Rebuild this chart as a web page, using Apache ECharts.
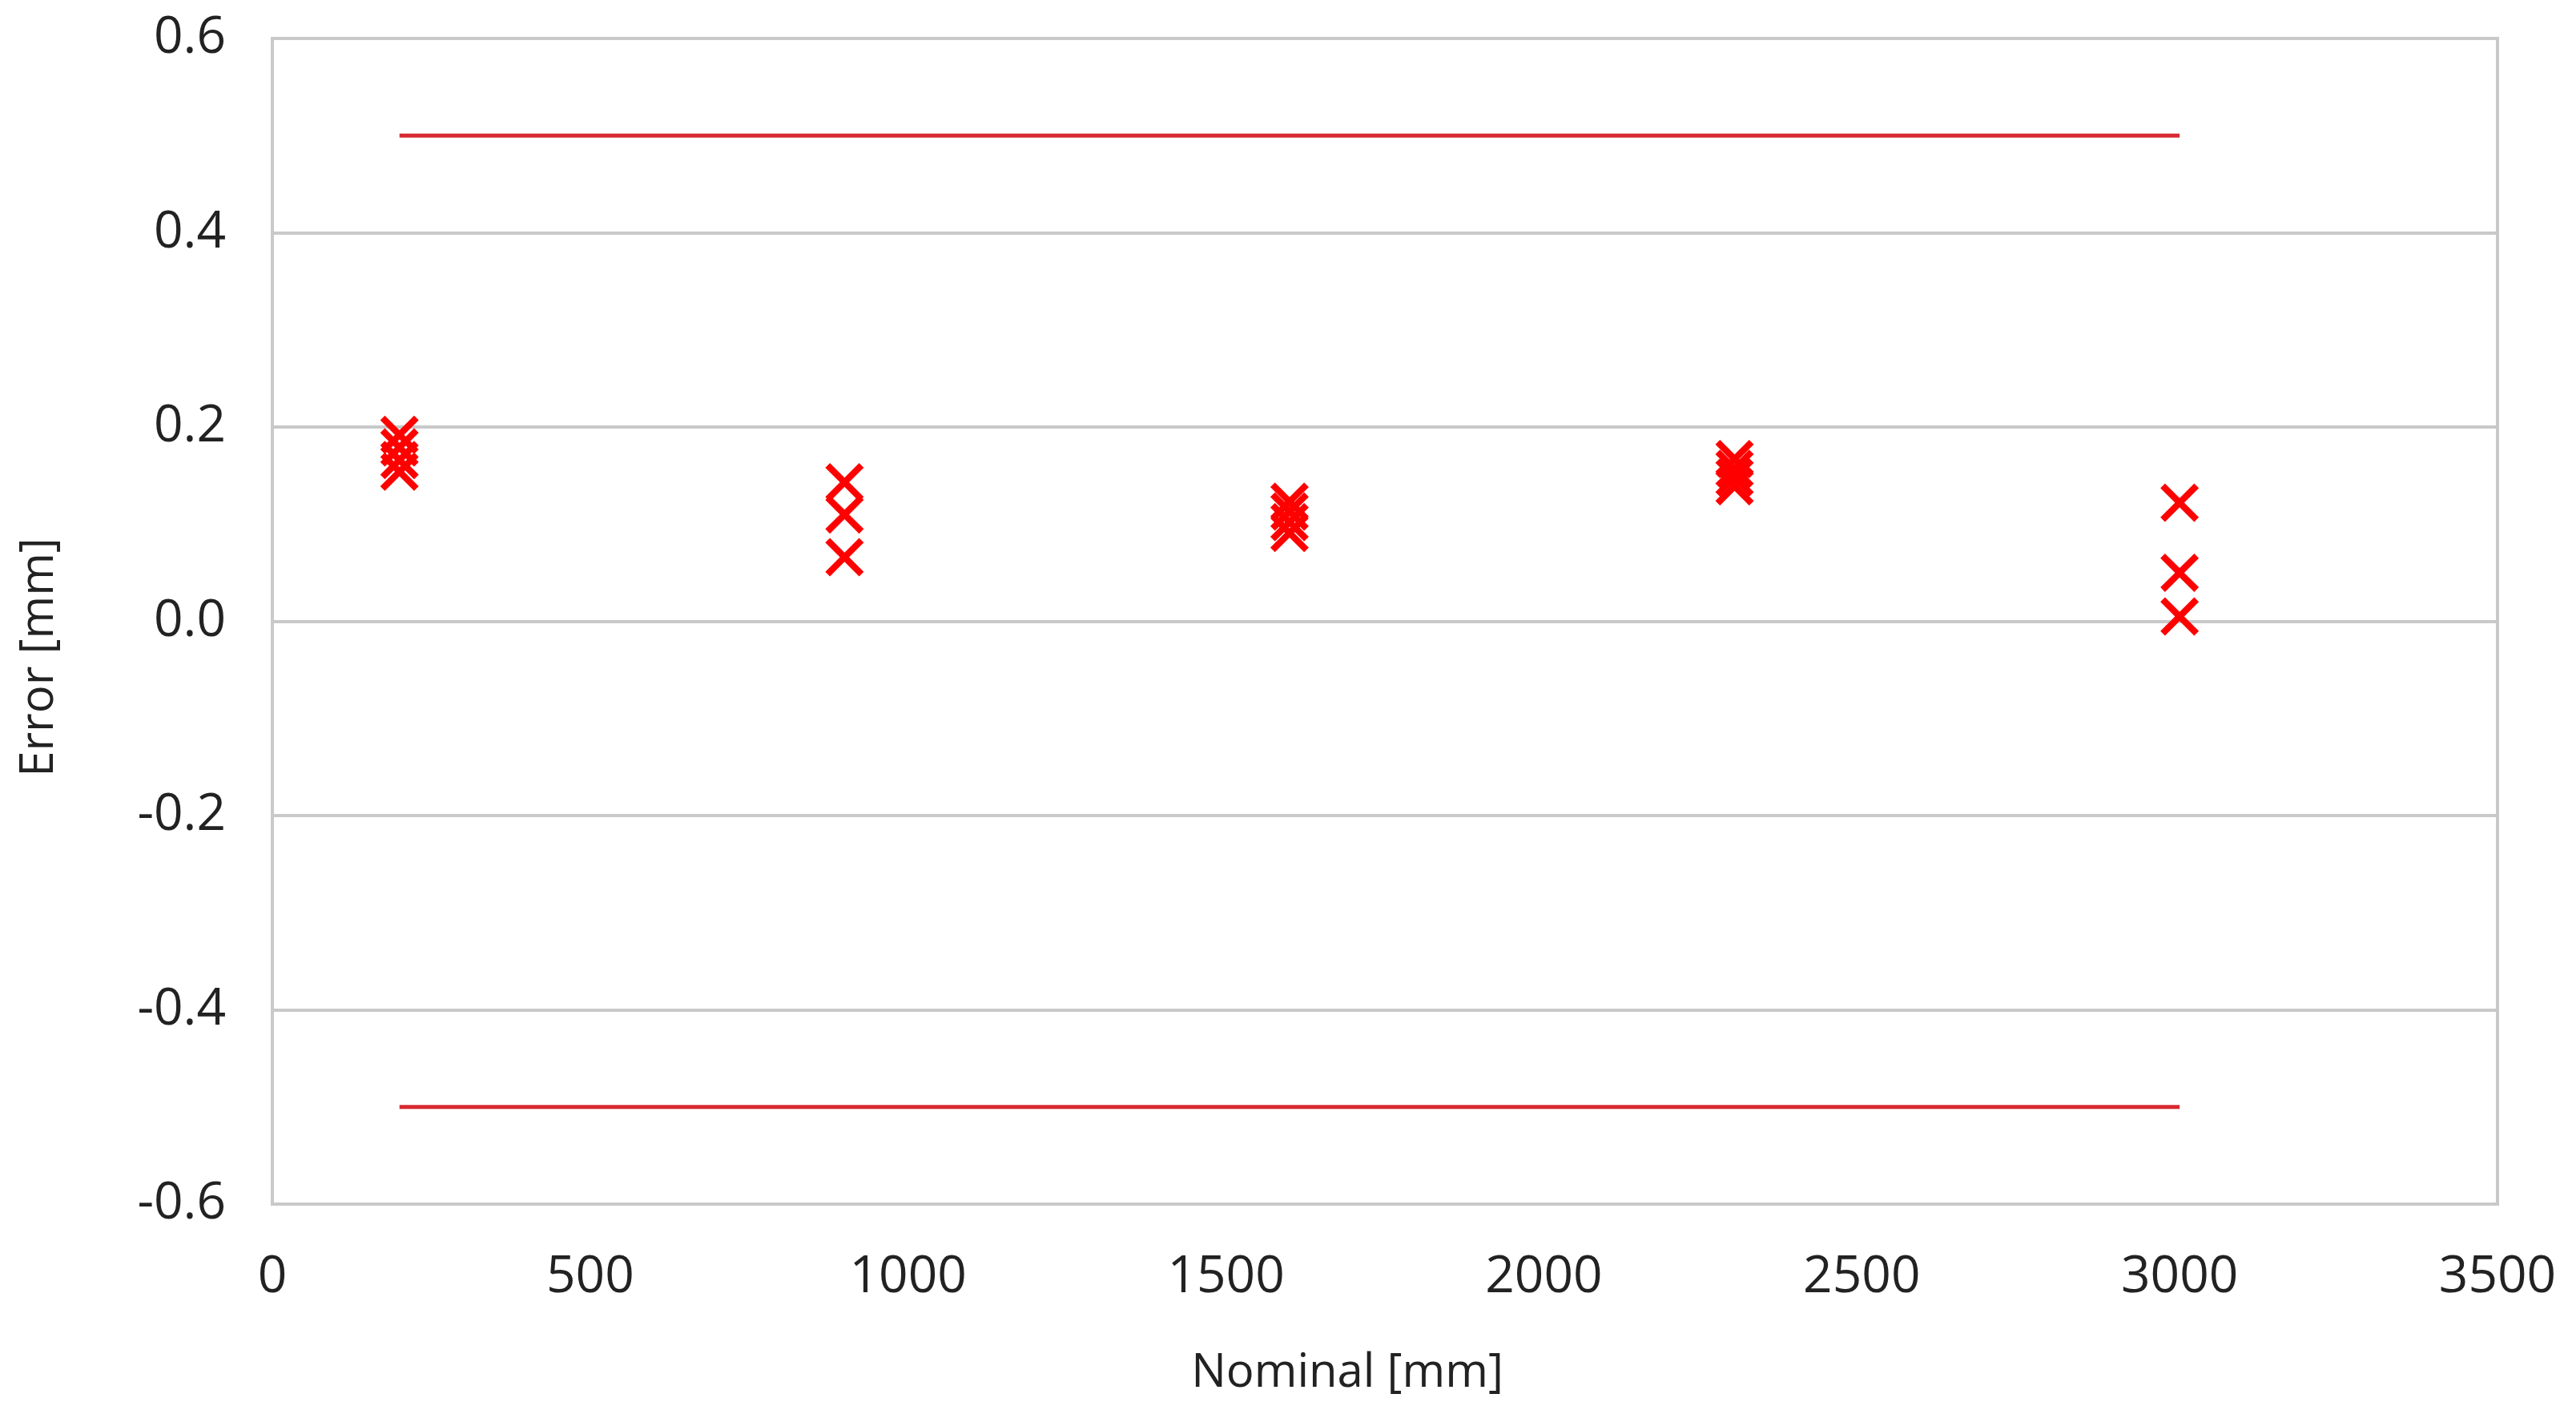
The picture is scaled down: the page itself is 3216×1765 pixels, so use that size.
<!DOCTYPE html>
<html>
<head>
<meta charset="utf-8">
<script src="https://cdn.jsdelivr.net/npm/echarts@6/dist/echarts.min.js"></script>
<style>
  html, body { margin: 0; padding: 0; background: #fff; }
  #chart { width: 3216px; height: 1765px; }
</style>
</head>
<body>
<div id="chart"></div>
<script>
// Measured points (nominal length vs error)
const nominal = [200, 200, 200, 200, 900, 900, 900, 1600, 1600, 1600, 1600, 2300, 2300, 2300, 2300, 3000, 3000, 3000];
const errors = [0.192, 0.179, 0.166, 0.154, 0.143, 0.11, 0.066, 0.123, 0.113, 0.102, 0.091, 0.167, 0.157, 0.148, 0.139, 0.122, 0.05, 0.005];

// Tolerance limits
const limitX = [200, 3000];
const upperLimit = [0.5, 0.5];
const lowerLimit = [-0.5, -0.5];

const xTicks = [0, 500, 1000, 1500, 2000, 2500, 3000, 3500];
const yTicks = [-0.6, -0.4, -0.2, 0.0, 0.2, 0.4, 0.6];

const FONT = "'Open Sans', 'Noto Sans', sans-serif";
const GRID_COLOR = "#c9c9c9";

// filled "x" shape so it scales with symbolSize
const d = 12;
const crossPath = `path://M0,${d}L${d},0L50,${50 - d}L${100 - d},0L100,${d}L${50 + d},50L100,${100 - d}L${100 - d},100L50,${50 + d}L${d},100L0,${100 - d}L${50 - d},50Z`;

const chart = echarts.init(document.getElementById("chart"));

chart.setOption({
  animation: false,
  backgroundColor: "#fff",
  grid: {
    left: 340,
    top: 48,
    width: 2778,
    height: 1455,
    show: true,
    borderColor: GRID_COLOR,
    borderWidth: 4,
    backgroundColor: "transparent"
  },
  xAxis: {
    type: "value",
    min: xTicks[0],
    max: xTicks[xTicks.length - 1],
    interval: 500,
    name: "Nominal [mm]",
    nameLocation: "middle",
    nameGap: 182,
    nameTextStyle: { fontFamily: FONT, fontSize: 58, color: "#222", padding: [0, 94, 0, 0] },
    axisLine: { show: false },
    axisTick: { show: false },
    splitLine: { show: false },
    axisLabel: {
      fontFamily: FONT,
      fontSize: 64,
      color: "#222",
      margin: 60,
      formatter: (v) => String(v)
    }
  },
  yAxis: {
    type: "value",
    min: yTicks[0],
    max: yTicks[yTicks.length - 1],
    interval: 0.2,
    name: "Error [mm]",
    nameLocation: "middle",
    nameGap: 262,
    nameRotate: 90,
    nameTextStyle: { fontFamily: FONT, fontSize: 58, color: "#222", padding: [0, 90, 0, 0] },
    axisLine: { show: false },
    axisTick: { show: false },
    splitLine: { show: true, lineStyle: { color: GRID_COLOR, width: 4 } },
    axisLabel: {
      fontFamily: FONT,
      fontSize: 64,
      color: "#222",
      margin: 58,
      formatter: (v) => v.toFixed(1)
    }
  },
  series: [
    {
      name: "Upper limit",
      type: "line",
      data: limitX.map((x, i) => [x, upperLimit[i]]),
      symbol: "none",
      lineStyle: { color: "#d62a30", width: 5 }
    },
    {
      name: "Lower limit",
      type: "line",
      data: limitX.map((x, i) => [x, lowerLimit[i]]),
      symbol: "none",
      lineStyle: { color: "#d62a30", width: 5 }
    },
    {
      name: "Error",
      type: "scatter",
      data: nominal.map((x, i) => [x, errors[i]]),
      symbol: crossPath,
      symbolSize: 48,
      itemStyle: { color: "#ff0000", opacity: 1 }
    }
  ]
});
</script>
</body>
</html>
